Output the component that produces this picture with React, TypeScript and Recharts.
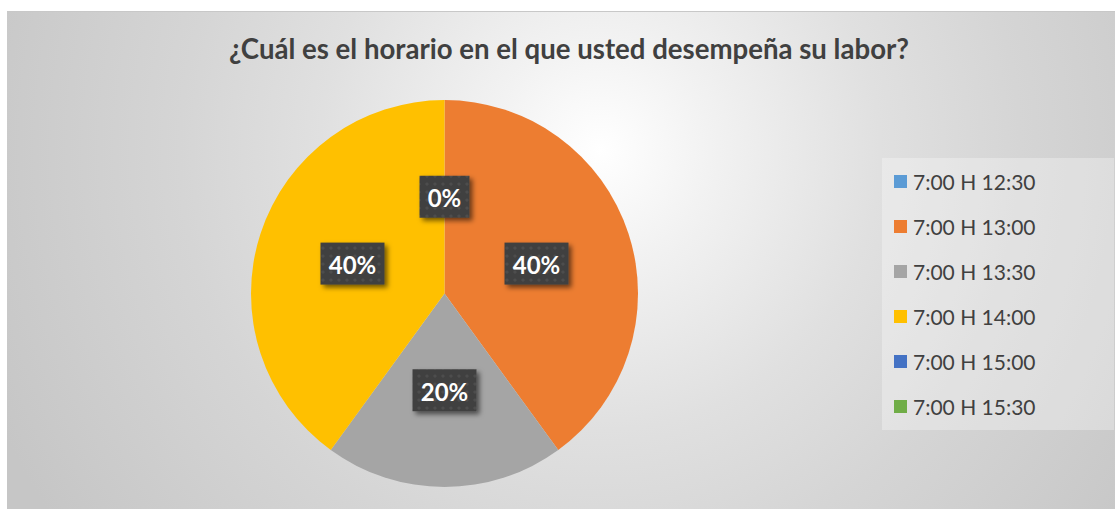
import React from 'react';
import { PieChart, Pie, Cell, Legend } from 'recharts';

// Horario de trabajo (porcentaje de respuestas)
const categories = ['7:00 H 12:30', '7:00 H 13:00', '7:00 H 13:30', '7:00 H 14:00', '7:00 H 15:00', '7:00 H 15:30'];
const shares = [0, 40, 20, 40, 0, 0];
const sliceColors = ['#5B9BD5', '#ED7D31', '#A5A5A5', '#FFC000', '#4472C4', '#70AD47'];

const title = '¿Cuál es el horario en el que usted desempeña su labor?';

const data = categories.map((name, i) => ({ name, value: shares[i] }));

const RAD = Math.PI / 180;
const FONT = 'Lato, "Open Sans", sans-serif';

// dark data-label box with dotted texture and a soft shadow
const renderLabel = (props: any) => {
  const { cx, cy, midAngle, outerRadius, percent, index } = props;
  // zero slices all sit at the top; draw that spot only once
  if (shares[index] === 0 && index !== shares.indexOf(0)) return null;
  const r = outerRadius * 0.5;
  const x = cx + r * Math.cos(-midAngle * RAD);
  const y = cy + r * Math.sin(-midAngle * RAD);
  const text = `${Math.round((percent || 0) * 100)}%`;
  const w = text.length > 2 ? 64 : 50;
  const h = 42;
  return (
    <g key={`lbl-${index}`}>
      <rect x={x - w / 2} y={y - h / 2} width={w} height={h} fill="url(#lblTexture)" filter="url(#lblShadow)" />
      <text
        x={x}
        y={y + 1}
        textAnchor="middle"
        dominantBaseline="central"
        fill="#ffffff"
        fontFamily={FONT}
        fontWeight={700}
        fontSize={24}
      >
        {text}
      </text>
    </g>
  );
};

const renderLegend = (props: any) => {
  const { payload } = props;
  return (
    <div
      style={{
        width: 232,
        height: 272,
        background: 'rgba(255,255,255,0.3)',
        boxSizing: 'border-box',
        paddingTop: 1,
        fontFamily: FONT,
      }}
    >
      {(payload || []).map((entry: any, i: number) => (
        <div key={`leg-${i}`} style={{ display: 'flex', alignItems: 'center', height: 45, paddingLeft: 12 }}>
          <span style={{ width: 13, height: 13, background: entry.color, display: 'inline-block', marginRight: 6 }} />
          <span style={{ fontSize: 21, color: '#404040' }}>{entry.value}</span>
        </div>
      ))}
    </div>
  );
};

export default function App() {
  return (
    <div
      style={{
        position: 'absolute',
        left: 7,
        top: 11,
        width: 1108,
        height: 497,
        borderTop: '1px solid #c8c8c8',
        background:
          'radial-gradient(circle 660px at 593px 138px, #ffffff 0px, #f2f2f2 110px, #e0e0e0 280px, #d5d5d5 420px, #c6c6c6 660px)',
        overflow: 'hidden',
      }}
    >
      <svg width={0} height={0} style={{ position: 'absolute' }}>
        <defs>
          <pattern id="lblTexture" width={8} height={8} patternUnits="userSpaceOnUse">
            <rect width={8} height={8} fill="#404040" />
            <circle cx={4} cy={4} r={1.6} fill="#4d4d4d" />
          </pattern>
          <filter id="lblShadow" x="-30%" y="-30%" width="170%" height="180%">
            <feDropShadow dx={3} dy={3} stdDeviation={2.5} floodColor="#000" floodOpacity={0.55} />
          </filter>
        </defs>
      </svg>
      <div
        style={{
          position: 'absolute',
          top: 23,
          left: 8,
          width: 1108,
          textAlign: 'center',
          fontFamily: FONT,
          fontWeight: 700,
          fontSize: 27.6,
          lineHeight: '27px',
          color: '#404040',
        }}
      >
        {title}
      </div>
      <PieChart
        width={1108}
        height={497}
        margin={{ top: 0, right: 0, bottom: 0, left: 0 }}
        style={{ position: 'absolute', left: 0, top: 0 }}
      >
        <Pie
          data={data}
          dataKey="value"
          nameKey="name"
          cx={437.5}
          cy={281.5}
          outerRadius={193.5}
          startAngle={90}
          endAngle={-270}
          stroke="none"
          label={renderLabel}
          labelLine={false}
          isAnimationActive={false}
        >
          {data.map((entry, index) => (
            <Cell key={`cell-${index}`} fill={sliceColors[index]} />
          ))}
        </Pie>
        <Legend
          content={renderLegend}
          wrapperStyle={{ position: 'absolute', left: 875, top: 146, width: 232, height: 272 }}
        />
      </PieChart>
    </div>
  );
}
